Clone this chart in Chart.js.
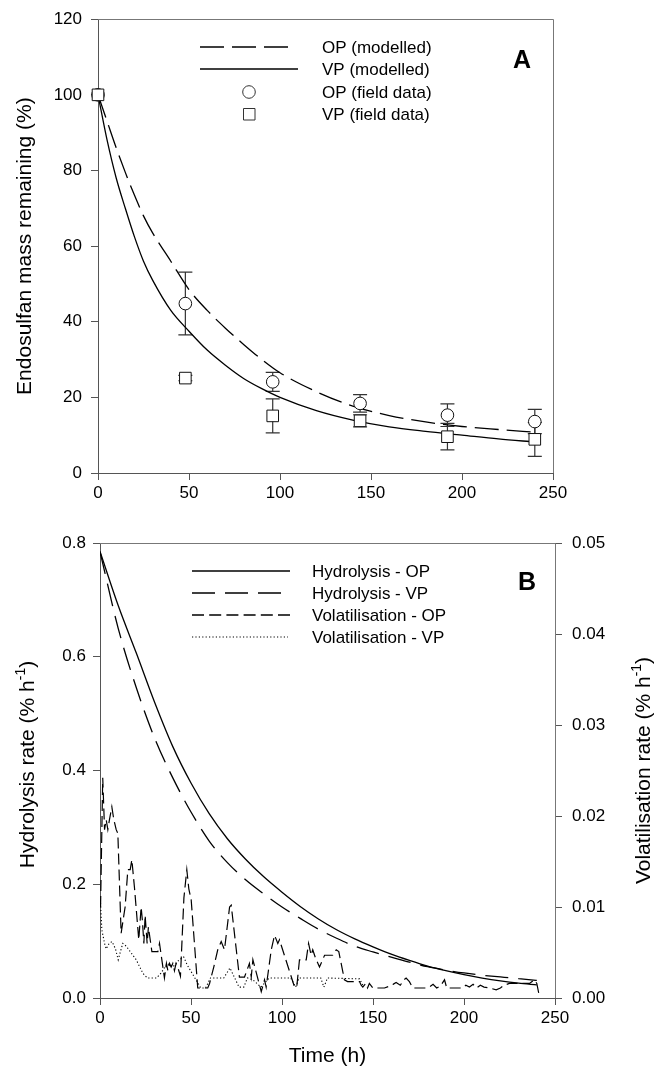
<!DOCTYPE html>
<html>
<head>
<meta charset="utf-8">
<script src="https://cdn.jsdelivr.net/npm/chart.js@4.4.1/dist/chart.umd.min.js"></script>
<style>
html, body { margin: 0; padding: 0; background: #fff; }
canvas { display: block; }
</style>
</head>
<body>
<canvas id="chartA" width="658" height="510"></canvas>
<canvas id="chartB" width="658" height="557"></canvas>
<script>
// ==================== DATA : panel A ====================
const timeModel  = [0, 5, 10, 15, 20, 25, 30, 40, 50, 60, 70, 80, 90, 100, 120, 140, 160, 180, 200, 220, 240];
const opModelled = [100, 93, 86, 79.5, 73.5, 68, 63.5, 56, 48.5, 43, 38.3, 34, 30, 26.5, 21.5, 17.7, 15.2, 13.5, 12.3, 11.5, 10.8];
const vpModelled = [100, 88, 78, 70, 62.5, 56, 51, 43, 37.5, 32.5, 28.5, 25, 22.3, 20, 16.5, 14, 12.2, 11, 10, 9, 8.2];

const fieldTime = [0, 48, 96, 144, 192, 240];
const opField   = [100, 44.8, 24.1, 18.4, 15.3, 13.6];
const opErr     = [0, 8.3, 2.5, 2.3, 3.0, 3.2];
const vpField   = [100, 25.1, 15.1, 13.8, 9.6, 8.9];
const vpErr     = [0, 0.7, 4.5, 1.6, 3.5, 4.5];

// ==================== DATA : panel B ====================
const timeHyd = [0, 10, 20, 30, 40, 50, 60, 70, 80, 90, 100, 110, 120, 130, 140, 150, 160, 170, 180, 190, 200, 210, 220, 230, 240];
const hydOP = [0.785, 0.690, 0.606, 0.520, 0.442, 0.378, 0.324, 0.280, 0.244, 0.213, 0.186, 0.161, 0.139, 0.120, 0.104, 0.090, 0.077, 0.066, 0.056, 0.048, 0.041, 0.035, 0.030, 0.026, 0.023];
const hydVP = [0.785, 0.650, 0.545, 0.457, 0.387, 0.327, 0.276, 0.238, 0.208, 0.183, 0.160, 0.140, 0.121, 0.105, 0.091, 0.081, 0.072, 0.063, 0.055, 0.049, 0.044, 0.040, 0.037, 0.034, 0.031];

const volOPTime = [
  0.3, 1.5, 2.5, 3.4, 4.3, 5.2, 6.5, 7.6, 8.9, 9.8,
  11.6, 13.8, 15.3, 16.6, 17.5, 19.0, 21.3, 22.6, 23.3, 24.1,
  24.8, 25.9, 26.6, 28.5, 31.8, 32.7, 35.4, 36.5, 37.3, 38.2,
  39.1, 40.0, 40.9, 41.8, 42.7, 44.2, 46.1, 47.7, 48.8, 50.1,
  53.7, 59.2, 60.2, 62.5, 64.7, 66.6, 68.4, 71.2, 72.1, 76.6,
  79.4, 82.1, 83.1, 84.0, 88.6, 90.4, 91.3, 94.1, 95.9, 97.7,
  98.6, 106.9, 108.1, 109.6, 113.3, 114.6, 116.0, 116.9, 118.4, 120.6,
  123.4, 127.9, 129.8, 131.2, 133.4, 134.3, 136, 142.6, 143.5, 144.4,
  146, 147, 148, 149.9, 156.3, 159, 161, 162.7, 165, 167,
  168.2, 170, 171.9, 179.2, 181, 183, 185, 187, 189.3, 190.5,
  193, 199.3, 201, 203, 205, 207, 209, 211, 214, 217.7,
  220, 222, 225, 236, 238.7, 240, 241.5
];
const volOP = [
  0.0100, 0.0242, 0.0185, 0.0196, 0.0185, 0.0196, 0.0210, 0.0196, 0.0185, 0.0181,
  0.0071, 0.0100, 0.0141, 0.0141, 0.0152, 0.0120, 0.0064, 0.0100, 0.0085, 0.0060,
  0.0091, 0.0060, 0.0078, 0.0051, 0.0051, 0.0060, 0.0022, 0.0038, 0.0030, 0.0038,
  0.0034, 0.0038, 0.0030, 0.0038, 0.0034, 0.0024, 0.0110, 0.0141, 0.0120, 0.0108,
  0.0011, 0.0011, 0.0016, 0.0034, 0.0053, 0.0062, 0.0053, 0.0100, 0.0102, 0.0023,
  0.0023, 0.0038, 0.0023, 0.0042, 0.0007, 0.0020, 0.0012, 0.0053, 0.0069, 0.0060,
  0.0064, 0.0012, 0.0012, 0.0042, 0.0042, 0.0060, 0.0047, 0.0053, 0.0044, 0.0034,
  0.0047, 0.0047, 0.0053, 0.0051, 0.0029, 0.0020, 0.0018, 0.0018, 0.0014, 0.0012,
  0.0016, 0.0011, 0.0016, 0.0011, 0.0011, 0.0013, 0.0015, 0.0017, 0.0014, 0.0020,
  0.0022, 0.0018, 0.0011, 0.0011, 0.0012, 0.0015, 0.0011, 0.0013, 0.0020, 0.0011,
  0.0011, 0.0011, 0.0014, 0.0012, 0.0015, 0.0011, 0.0014, 0.0012, 0.0011, 0.0009,
  0.0011, 0.0014, 0.0016, 0.0016, 0.0020, 0.0016, 0.0001
];

const volVPTime = [
  0.2, 1.0, 2.5, 3.4, 5.0, 6.6, 8.5, 10.0, 12.5, 14.4,
  19.9, 23.6, 26.0, 31.0, 33.4, 37.0, 40.0, 43.5, 46.0, 48.0,
  55.4, 58.0, 60.7, 68.0, 71.4, 76.4, 79.0, 81.0, 84.0, 88.4,
  93.0, 104.8, 107.5, 109.4, 121.3, 123.0, 125.0, 142.6, 145.0
];
const volVP = [
  0.0108, 0.0075, 0.0060, 0.0054, 0.0060, 0.0062, 0.0054, 0.0042, 0.0060, 0.0057,
  0.0042, 0.0027, 0.0022, 0.0022, 0.0027, 0.0038, 0.0034, 0.0042, 0.0045, 0.0036,
  0.0011, 0.0011, 0.0022, 0.0022, 0.0033, 0.0012, 0.0012, 0.0022, 0.0020, 0.0012,
  0.0022, 0.0022, 0.0012, 0.0022, 0.0022, 0.0012, 0.0022, 0.0021, 0.0012
];

// ==================== HELPERS ====================
const FONT = "'Liberation Sans', Arial, Helvetica, sans-serif";
const AXIS = '#555';
Chart.defaults.font.family = FONT;
Chart.defaults.font.size = 17;
Chart.defaults.color = '#000';

function pts(xs, ys){ return xs.map((x, i) => ({x: x, y: ys[i]})); }

function axis(min, max, step, pad, fmt, fit, position){
    return {
        type: 'linear', position: position, min: min, max: max,
        ticks: { stepSize: step, padding: pad, color: '#000', callback: fmt },
        grid: { drawOnChartArea: false, drawTicks: true, tickLength: 7, color: AXIS, lineWidth: 1 },
        border: { color: AXIS, width: 1 },
        afterFit: fit
    };
}

function drawTitle(ctx, x, y, rot, parts, size){
    ctx.save();
    ctx.translate(x, y);
    ctx.rotate(rot);
    ctx.textBaseline = 'alphabetic';
    ctx.textAlign = 'left';
    ctx.fillStyle = '#000';
    const big = size + 'px ' + FONT, small = Math.round(size * 0.68) + 'px ' + FONT;
    let total = 0;
    parts.forEach(p => { ctx.font = p.sup ? small : big; p.w = ctx.measureText(p.t).width; total += p.w; });
    let cx = -total / 2;
    parts.forEach(p => {
        ctx.font = p.sup ? small : big;
        ctx.fillText(p.t, cx, p.sup ? -size * 0.42 : 0);
        cx += p.w;
    });
    ctx.restore();
}

function frame(ctx, a){
    ctx.save();
    ctx.strokeStyle = '#777';
    ctx.lineWidth = 1;
    ctx.beginPath();
    const t = Math.round(a.top) + 0.5, r = Math.round(a.right) + 0.5;
    ctx.moveTo(a.left, t); ctx.lineTo(r, t); ctx.lineTo(r, a.bottom);
    ctx.stroke();
    ctx.restore();
}

function legendLine(ctx, x1, x2, y, dash, w){
    ctx.save();
    ctx.strokeStyle = '#000';
    ctx.lineWidth = w;
    ctx.setLineDash(dash);
    ctx.beginPath(); ctx.moveTo(x1, y); ctx.lineTo(x2, y); ctx.stroke();
    ctx.restore();
}

function legendText(ctx, text, x, y){
    ctx.save();
    ctx.font = '17px ' + FONT;
    ctx.fillStyle = '#000';
    ctx.textBaseline = 'middle';
    ctx.textAlign = 'left';
    ctx.fillText(text, x, y + 1);
    ctx.restore();
}

function panelLetter(ctx, text, x, y){
    ctx.save();
    ctx.font = 'bold 25px ' + FONT;
    ctx.fillStyle = '#000';
    ctx.textAlign = 'center';
    ctx.textBaseline = 'alphabetic';
    ctx.fillText(text, x, y);
    ctx.restore();
}

// ==================== PANEL A ====================
const DASH_A = [24, 8];

const errorBars = {
    id: 'errorBars',
    beforeDatasetsDraw(chart){
        const {ctx, scales: {x, y}} = chart;
        ctx.save();
        ctx.strokeStyle = '#333';
        ctx.lineWidth = 1.2;
        const bar = (t, v, e) => {
            if (!e) return;
            const px = x.getPixelForValue(t);
            const hi = y.getPixelForValue(v + e), lo = y.getPixelForValue(v - e);
            ctx.beginPath();
            ctx.moveTo(px, hi); ctx.lineTo(px, lo);
            ctx.moveTo(px - 7, hi); ctx.lineTo(px + 7, hi);
            ctx.moveTo(px - 7, lo); ctx.lineTo(px + 7, lo);
            ctx.stroke();
        };
        fieldTime.forEach((t, i) => bar(t, opField[i], opErr[i]));
        fieldTime.forEach((t, i) => bar(t, vpField[i], vpErr[i]));
        ctx.restore();
    }
};

const decorA = {
    id: 'decorA',
    afterDraw(chart){
        const {ctx, chartArea} = chart;
        frame(ctx, chartArea);
        drawTitle(ctx, 31, (chartArea.top + chartArea.bottom) / 2, -Math.PI / 2,
            [{t: 'Endosulfan mass remaining (%)'}], 21);

        legendLine(ctx, 200, 288, 47, DASH_A, 1.3);
        legendLine(ctx, 200, 298, 69, [], 1.3);
        ctx.save();
        ctx.strokeStyle = '#333'; ctx.fillStyle = '#fff'; ctx.lineWidth = 1;
        ctx.beginPath(); ctx.arc(249, 92, 6.3, 0, Math.PI * 2); ctx.fill(); ctx.stroke();
        ctx.beginPath(); ctx.rect(243.5, 108.5, 11.5, 11.5); ctx.fill(); ctx.stroke();
        ctx.restore();
        legendText(ctx, 'OP (modelled)', 322, 47);
        legendText(ctx, 'VP (modelled)', 322, 69);
        legendText(ctx, 'OP (field data)', 322, 92);
        legendText(ctx, 'VP (field data)', 322, 114);
        panelLetter(ctx, 'A', 522, 68);
    }
};

new Chart(document.getElementById('chartA'), {
    type: 'scatter',
    data: {
        datasets: [
            { label: 'VP (field data)', data: pts(fieldTime, vpField), order: 0, clip: false,
              pointStyle: 'rect', pointRadius: 8.2, borderColor: '#111', backgroundColor: '#fff', borderWidth: 1 },
            { label: 'OP (field data)', data: pts(fieldTime, opField), order: 1, clip: false,
              pointStyle: 'circle', pointRadius: 6.3, borderColor: '#111', backgroundColor: '#fff', borderWidth: 1 },
            { type: 'line', label: 'OP (modelled)', data: pts(timeModel, opModelled), order: 2,
              borderColor: '#000', borderWidth: 1.3, borderDash: DASH_A, pointRadius: 0,
              fill: false, cubicInterpolationMode: 'monotone' },
            { type: 'line', label: 'VP (modelled)', data: pts(timeModel, vpModelled), order: 3,
              borderColor: '#000', borderWidth: 1.3, pointRadius: 0,
              fill: false, cubicInterpolationMode: 'monotone' }
        ]
    },
    options: {
        responsive: false,
        animation: false,
        layout: { padding: { top: 19, right: 105, left: 0, bottom: 0 } },
        plugins: { legend: { display: false }, tooltip: { enabled: false } },
        scales: {
            x: axis(0, 250, 50, 3, v => v, s => { s.height = 37; }, 'bottom'),
            y: axis(0, 120, 20, 9, v => v, s => { s.width = 98; }, 'left')
        }
    },
    plugins: [errorBars, decorA]
});

// ==================== PANEL B ====================
const DASH_HVP = [23, 10];
const DASH_VOP = [12, 5.2];
const DOT_VVP = [1.2, 2.2];

const decorB = {
    id: 'decorB',
    afterDraw(chart){
        const {ctx, chartArea} = chart;
        frame(ctx, chartArea);
        const cy = (chartArea.top + chartArea.bottom) / 2;
        drawTitle(ctx, 34, cy - 6, -Math.PI / 2,
            [{t: 'Hydrolysis rate (% h'}, {t: '-1', sup: true}, {t: ')'}], 21);
        drawTitle(ctx, 650, cy, -Math.PI / 2,
            [{t: 'Volatilisation rate (% h'}, {t: '-1', sup: true}, {t: ')'}], 21);
        drawTitle(ctx, (chartArea.left + chartArea.right) / 2, 552, 0, [{t: 'Time (h)'}], 21);

        legendLine(ctx, 192, 290, 61, [], 1.3);
        legendLine(ctx, 192, 281, 83, DASH_HVP, 1.3);
        legendLine(ctx, 192, 290, 105, DASH_VOP, 1.3);
        legendLine(ctx, 192, 288, 127, DOT_VVP, 1.2);
        legendText(ctx, 'Hydrolysis - OP', 312, 61);
        legendText(ctx, 'Hydrolysis - VP', 312, 83);
        legendText(ctx, 'Volatilisation - OP', 312, 105);
        legendText(ctx, 'Volatilisation - VP', 312, 127);
        panelLetter(ctx, 'B', 527, 80);
    }
};

new Chart(document.getElementById('chartB'), {
    type: 'line',
    data: {
        datasets: [
            { label: 'Hydrolysis - OP', data: pts(timeHyd, hydOP), yAxisID: 'y',
              borderColor: '#000', borderWidth: 1.3, pointRadius: 0, fill: false, cubicInterpolationMode: 'monotone' },
            { label: 'Hydrolysis - VP', data: pts(timeHyd, hydVP), yAxisID: 'y',
              borderColor: '#000', borderWidth: 1.3, borderDash: DASH_HVP, pointRadius: 0, fill: false, cubicInterpolationMode: 'monotone' },
            { label: 'Volatilisation - OP', data: pts(volOPTime, volOP), yAxisID: 'y1',
              borderColor: '#000', borderWidth: 1.2, borderDash: [11, 5], pointRadius: 0, fill: false, tension: 0 },
            { label: 'Volatilisation - VP', data: pts(volVPTime, volVP), yAxisID: 'y1',
              borderColor: '#000', borderWidth: 1.1, borderDash: DOT_VVP, pointRadius: 0, fill: false, tension: 0 }
        ]
    },
    options: {
        responsive: false,
        animation: false,
        layout: { padding: { top: 33, right: 0, left: 0, bottom: 0 } },
        plugins: { legend: { display: false }, tooltip: { enabled: false } },
        scales: {
            x: axis(0, 250, 50, 3, v => v, s => { s.height = 69; }, 'bottom'),
            y: axis(0, 0.8, 0.2, 7, v => v.toFixed(1), s => { s.width = 100; }, 'left'),
            y1: axis(0, 0.05, 0.01, 10, v => v.toFixed(2), s => { s.width = 103; }, 'right')
        }
    },
    plugins: [decorB]
});
</script>
</body>
</html>
